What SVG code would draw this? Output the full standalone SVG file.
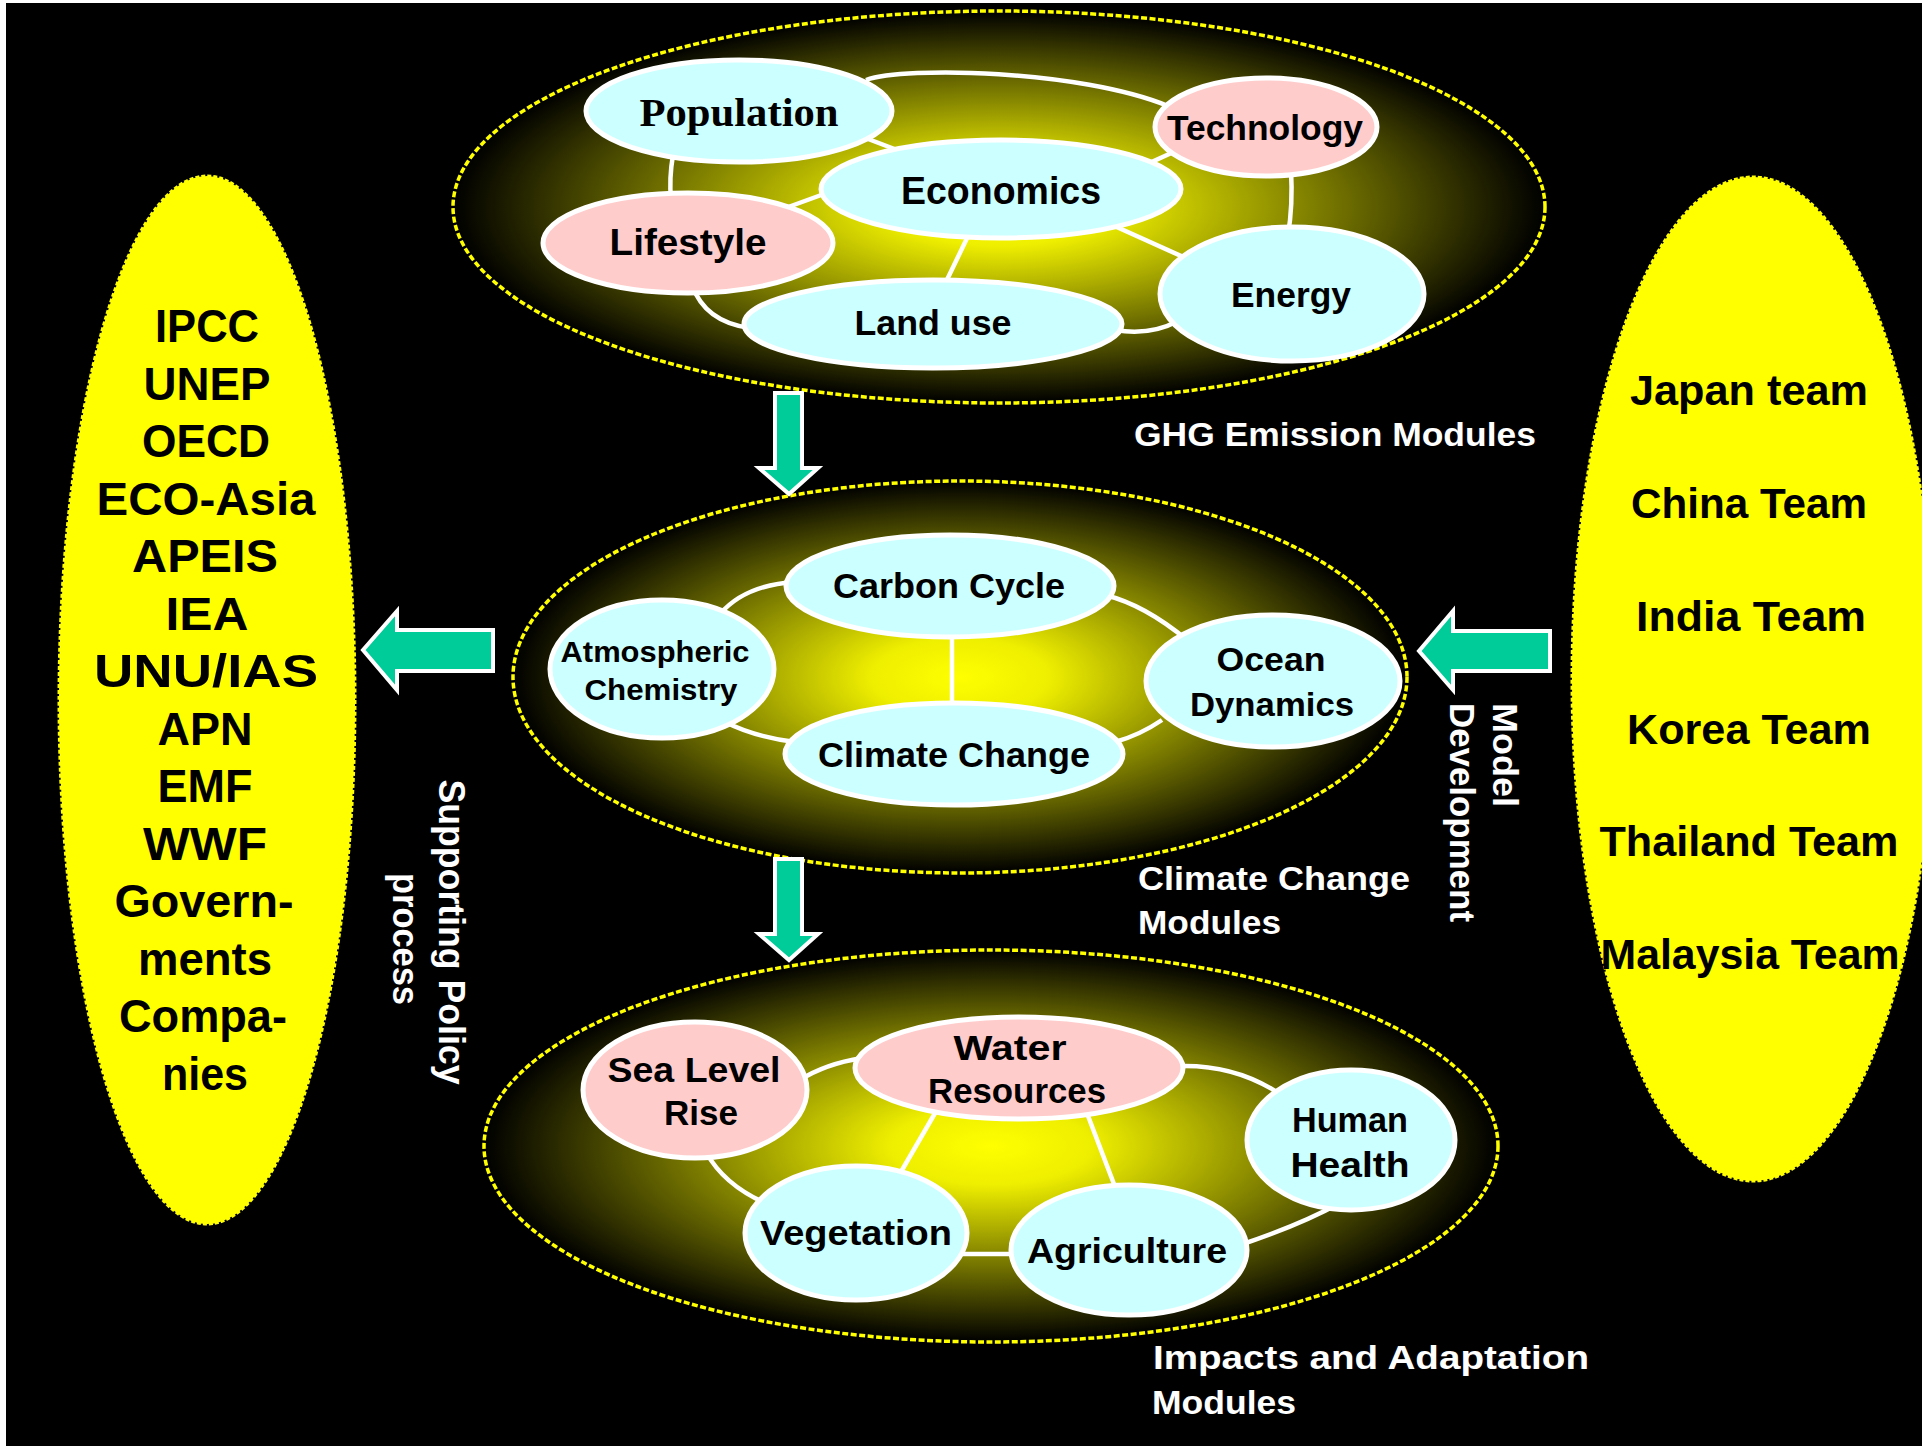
<svg xmlns="http://www.w3.org/2000/svg" width="1922" height="1446" viewBox="0 0 1922 1446">
<style>
.big{stroke:#ffff00;stroke-width:3.5;stroke-dasharray:6 2.5}
.side{fill:#ffff00;stroke:#ffff00;stroke-width:3;stroke-dasharray:4 2}
.cy{fill:#ccffff;stroke:#ffffff;stroke-width:5}
.pk{fill:#ffcccc;stroke:#ffffff;stroke-width:5}
.lt{font-family:"Liberation Sans",Arial,sans-serif;font-weight:bold;fill:#000;text-anchor:middle}
.lb{font-family:"Liberation Sans",Arial,sans-serif;font-weight:bold;fill:#fff}
.side-t{font-family:"Liberation Sans",Arial,sans-serif;font-weight:bold;fill:#000;text-anchor:middle}
.con path,.con line{stroke:#fff;stroke-width:4.5;fill:none;stroke-linecap:butt}
.arrows path{fill:#00cc99;stroke:#fff;stroke-width:4;stroke-linejoin:miter}
</style>
<defs>
<radialGradient id="glow" cx="0.5" cy="0.5" r="0.5">
<stop offset="0" stop-color="#ffff00"/>
<stop offset="0.2" stop-color="#eeee00"/>
<stop offset="1" stop-color="#000000"/>
</radialGradient>
</defs>
<rect x="0" y="0" width="1922" height="1446" fill="#ffffff"/>
<rect x="6" y="3" width="1916" height="1443" fill="#000000"/>

<g id="ghg-group"><ellipse class="big" cx="999" cy="207" rx="546" ry="196" fill="url(#glow)"/></g>
<g id="climate-group"><ellipse class="big" cx="960" cy="677" rx="447" ry="196" fill="url(#glow)"/></g>
<g id="impacts-group"><ellipse class="big" cx="991" cy="1146" rx="507" ry="196" fill="url(#glow)"/></g>

<g id="connectors" class="con">
<path d="M866,80 C905,66 1080,70 1168,106"/>
<line x1="855" y1="134" x2="905" y2="153"/>
<path d="M673,155 Q669,178 671,200"/>
<line x1="780" y1="210" x2="835" y2="190"/>
<line x1="1145" y1="165" x2="1178" y2="150"/>
<path d="M1291,170 Q1293,205 1288,235"/>
<line x1="1110" y1="224" x2="1190" y2="260"/>
<line x1="970" y1="232" x2="944" y2="286"/>
<path d="M692,285 Q705,322 750,328"/>
<path d="M1115,330 Q1150,336 1178,321"/>
<path d="M795,582 Q745,585 720,614"/>
<path d="M1105,595 Q1145,605 1187,640"/>
<line x1="952" y1="630" x2="952" y2="710"/>
<path d="M725,722 Q755,737 795,742"/>
<path d="M1162,720 Q1140,735 1115,742"/>
<path d="M800,1080 Q825,1064 862,1058"/>
<path d="M1178,1066 Q1240,1064 1287,1099"/>
<line x1="938" y1="1108" x2="898" y2="1177"/>
<line x1="1085" y1="1108" x2="1117" y2="1192"/>
<path d="M706,1152 Q725,1187 772,1206"/>
<line x1="960" y1="1254" x2="1018" y2="1254"/>
<path d="M1240,1245 Q1300,1225 1340,1203"/>
</g>
<g id="flow-arrows" class="arrows">
<path d="M775,393 L802,393 L802,468 L818,468 L789,494 L759,468 L775,468 Z"/>
<path d="M775,859 L802,859 L802,934 L818,934 L789,960 L759,934 L775,934 Z"/>
<path d="M493,630 L493,671 L397,671 L397,690 L363,650 L397,611 L397,630 Z"/>
<path d="M1550,631 L1550,671 L1453,671 L1453,690 L1419,651 L1453,611 L1453,631 Z"/>
</g>

<g id="population"><ellipse class="cy" cx="739" cy="111" rx="153" ry="51"/><text x="739" y="126" style="font-family:'Liberation Serif','Times New Roman',serif;font-weight:bold;font-size:41px;text-anchor:middle" textLength="199" lengthAdjust="spacingAndGlyphs">Population</text></g>
<g id="technology"><ellipse class="pk" cx="1266" cy="127" rx="111" ry="49"/><text class="lt" x="1265" y="140" font-size="35" textLength="196" lengthAdjust="spacingAndGlyphs">Technology</text></g>
<g id="economics"><ellipse class="cy" cx="1001" cy="189" rx="180" ry="49"/><text class="lt" x="1001" y="204" font-size="39" textLength="200" lengthAdjust="spacingAndGlyphs">Economics</text></g>
<g id="lifestyle"><ellipse class="pk" cx="688" cy="243" rx="145" ry="50"/><text class="lt" x="688" y="255" font-size="36" textLength="157" lengthAdjust="spacingAndGlyphs">Lifestyle</text></g>
<g id="energy"><ellipse class="cy" cx="1292" cy="294" rx="132" ry="67"/><text class="lt" x="1291" y="307" font-size="35" textLength="120" lengthAdjust="spacingAndGlyphs">Energy</text></g>
<g id="landuse"><ellipse class="cy" cx="933" cy="324" rx="189" ry="44"/><text class="lt" x="933" y="335" font-size="35" textLength="157" lengthAdjust="spacingAndGlyphs">Land use</text></g>

<g id="carboncycle"><ellipse class="cy" cx="950" cy="586" rx="164" ry="51"/><text class="lt" x="949" y="598" font-size="35" textLength="232" lengthAdjust="spacingAndGlyphs">Carbon Cycle</text></g>
<g id="atmospheric"><ellipse class="cy" cx="662" cy="669" rx="112" ry="69"/><text class="lt" x="655" y="662" font-size="29" textLength="189" lengthAdjust="spacingAndGlyphs">Atmospheric</text><text class="lt" x="661" y="700" font-size="29" textLength="153" lengthAdjust="spacingAndGlyphs">Chemistry</text></g>
<g id="ocean"><ellipse class="cy" cx="1273" cy="681" rx="127" ry="66"/><text class="lt" x="1271" y="671" font-size="33" textLength="109" lengthAdjust="spacingAndGlyphs">Ocean</text><text class="lt" x="1272" y="716" font-size="34" textLength="164" lengthAdjust="spacingAndGlyphs">Dynamics</text></g>
<g id="climatechange"><ellipse class="cy" cx="954" cy="754" rx="169" ry="51"/><text class="lt" x="954" y="767" font-size="35" textLength="272" lengthAdjust="spacingAndGlyphs">Climate Change</text></g>

<g id="sealevel"><ellipse class="pk" cx="695" cy="1090" rx="112" ry="68"/><text class="lt" x="694" y="1082" font-size="35" textLength="173" lengthAdjust="spacingAndGlyphs">Sea Level</text><text class="lt" x="701" y="1125" font-size="35" textLength="74" lengthAdjust="spacingAndGlyphs">Rise</text></g>
<g id="water"><ellipse class="pk" cx="1019" cy="1068" rx="164" ry="51"/><text class="lt" x="1010" y="1060" font-size="35" textLength="113" lengthAdjust="spacingAndGlyphs">Water</text><text class="lt" x="1017" y="1103" font-size="35" textLength="178" lengthAdjust="spacingAndGlyphs">Resources</text></g>
<g id="human"><ellipse class="cy" cx="1351" cy="1140" rx="104" ry="70"/><text class="lt" x="1350" y="1132" font-size="35" textLength="116" lengthAdjust="spacingAndGlyphs">Human</text><text class="lt" x="1350" y="1177" font-size="35" textLength="119" lengthAdjust="spacingAndGlyphs">Health</text></g>
<g id="vegetation"><ellipse class="cy" cx="856" cy="1233" rx="111" ry="67"/><text class="lt" x="856" y="1245" font-size="35" textLength="192" lengthAdjust="spacingAndGlyphs">Vegetation</text></g>
<g id="agriculture"><ellipse class="cy" cx="1129" cy="1250" rx="118" ry="65"/><text class="lt" x="1127" y="1263" font-size="35" textLength="200" lengthAdjust="spacingAndGlyphs">Agriculture</text></g>

<g id="labels">
<text class="lb" x="1134" y="446" font-size="33" textLength="402" lengthAdjust="spacingAndGlyphs">GHG Emission Modules</text>
<text class="lb" x="1138" y="890" font-size="33" textLength="272" lengthAdjust="spacingAndGlyphs">Climate Change</text>
<text class="lb" x="1138" y="934" font-size="33" textLength="143" lengthAdjust="spacingAndGlyphs">Modules</text>
<text class="lb" x="1153" y="1369" font-size="33" textLength="436" lengthAdjust="spacingAndGlyphs">Impacts and Adaptation</text>
<text class="lb" x="1152" y="1414" font-size="33" textLength="144" lengthAdjust="spacingAndGlyphs">Modules</text>
<text class="lb" transform="translate(1493,703) rotate(90)" font-size="35" textLength="104" lengthAdjust="spacingAndGlyphs">Model</text>
<text class="lb" transform="translate(1450,703) rotate(90)" font-size="35" textLength="219" lengthAdjust="spacingAndGlyphs">Development</text>
<text class="lb" transform="translate(439,932) rotate(90)" font-size="36" text-anchor="middle" textLength="305" lengthAdjust="spacingAndGlyphs">Supporting Policy</text>
<text class="lb" transform="translate(393,939) rotate(90)" font-size="36" text-anchor="middle" textLength="132" lengthAdjust="spacingAndGlyphs">process</text>
</g>

<g id="organizations">
<ellipse class="side" cx="207" cy="700" rx="148" ry="524"/>
<g class="side-t" font-size="46">
<text x="207" y="342" textLength="104" lengthAdjust="spacingAndGlyphs">IPCC</text>
<text x="207" y="400" textLength="127" lengthAdjust="spacingAndGlyphs">UNEP</text>
<text x="206" y="457" textLength="128" lengthAdjust="spacingAndGlyphs">OECD</text>
<text x="206" y="515" textLength="219" lengthAdjust="spacingAndGlyphs">ECO-Asia</text>
<text x="205" y="572" textLength="146" lengthAdjust="spacingAndGlyphs">APEIS</text>
<text x="207" y="630" textLength="83" lengthAdjust="spacingAndGlyphs">IEA</text>
<text x="206" y="687" textLength="224" lengthAdjust="spacingAndGlyphs">UNU/IAS</text>
<text x="205" y="745" textLength="95" lengthAdjust="spacingAndGlyphs">APN</text>
<text x="205" y="802" textLength="95" lengthAdjust="spacingAndGlyphs">EMF</text>
<text x="205" y="860" textLength="124" lengthAdjust="spacingAndGlyphs">WWF</text>
<text x="204" y="917" textLength="179" lengthAdjust="spacingAndGlyphs">Govern-</text>
<text x="205" y="975" textLength="134" lengthAdjust="spacingAndGlyphs">ments</text>
<text x="203" y="1032" textLength="168" lengthAdjust="spacingAndGlyphs">Compa-</text>
<text x="205" y="1090" textLength="86" lengthAdjust="spacingAndGlyphs">nies</text>
</g>
</g>

<g id="teams">
<ellipse class="side" cx="1753" cy="679" rx="181" ry="502"/>
<g class="side-t" font-size="43">
<text x="1749" y="405" textLength="238" lengthAdjust="spacingAndGlyphs">Japan team</text>
<text x="1749" y="518" textLength="236" lengthAdjust="spacingAndGlyphs">China Team</text>
<text x="1751" y="631" textLength="230" lengthAdjust="spacingAndGlyphs">India Team</text>
<text x="1749" y="744" textLength="244" lengthAdjust="spacingAndGlyphs">Korea Team</text>
<text x="1749" y="856" textLength="299" lengthAdjust="spacingAndGlyphs">Thailand Team</text>
<text x="1750" y="969" textLength="299" lengthAdjust="spacingAndGlyphs">Malaysia Team</text>
</g>
</g>
</svg>
